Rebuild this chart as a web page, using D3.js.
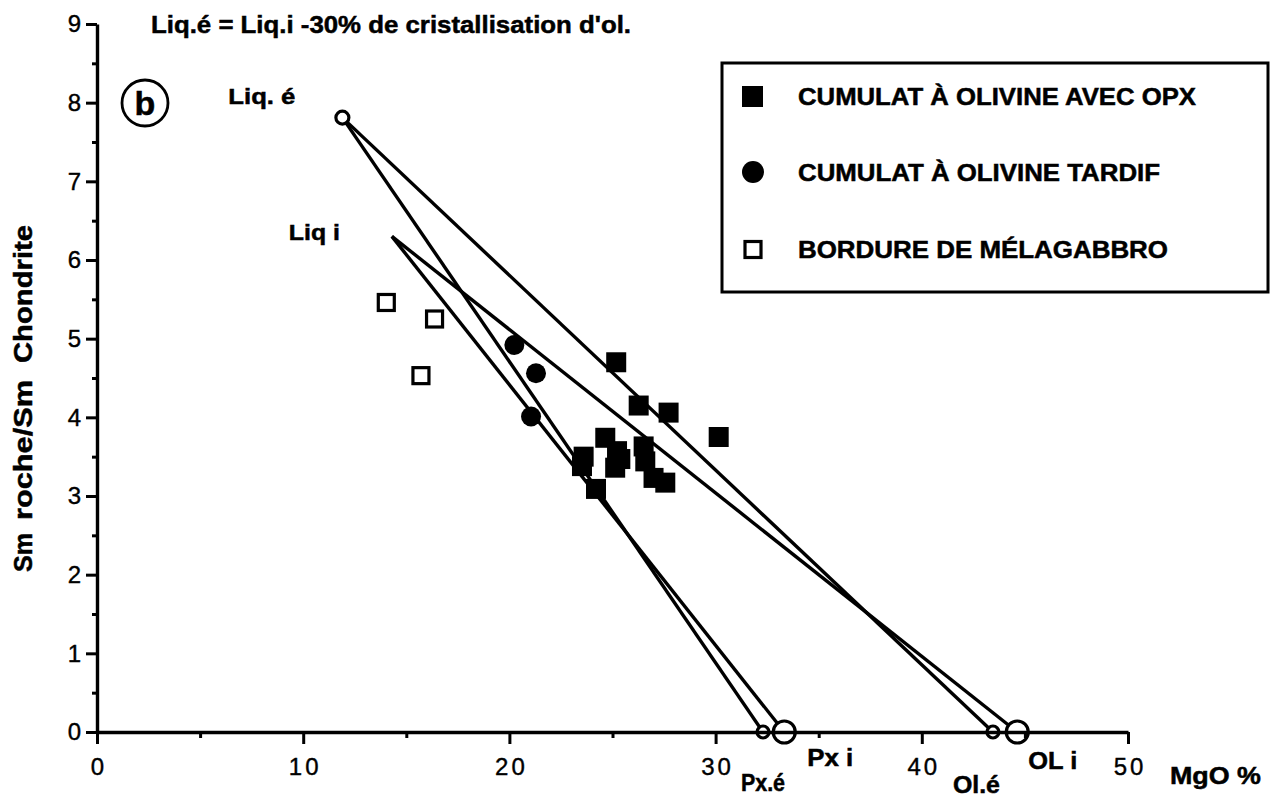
<!DOCTYPE html>
<html><head><meta charset="utf-8">
<script src="https://cdn.jsdelivr.net/npm/d3@7"></script>
<style>body{margin:0;background:#fff}svg{display:block}</style>
</head><body>
<svg id="c" width="1271" height="797"></svg>
<script>
// ---------- data ----------
const xTicks = [0, 10, 20, 30, 40, 50];
const xMinor = [5, 15, 25, 35, 45];
const yTicks = [0, 1, 2, 3, 4, 5, 6, 7, 8, 9];
const yMinor = [0.5, 1.5, 2.5, 3.5, 4.5, 5.5, 6.5, 7.5, 8.5];

// Cumulat à olivine avec OPX (filled squares)
const opxMgO = [25.18, 26.27, 27.72, 30.15, 24.65, 25.22, 25.38, 25.13, 23.60, 23.52, 24.20, 26.51, 26.59, 26.99, 27.56];
const opxSm  = [4.70, 4.15, 4.06, 3.75, 3.74, 3.57, 3.47, 3.36, 3.50, 3.38, 3.09, 3.63, 3.44, 3.23, 3.17];
// Cumulat à olivine tardif (filled circles)
const tardMgO = [20.24, 21.29, 21.05];
const tardSm  = [4.92, 4.56, 4.01];
// Bordure de mélagabbro (open squares)
const bordMgO = [14.03, 16.37, 15.71];
const bordSm  = [5.46, 5.25, 4.53];

// mixing lines: liquid -> pyroxene / olivine end-members (Sm = 0)
const liqNames = ["Liq. é", "Liq i"];
const liqMgO = [11.9, 14.3];
const liqSm  = [7.81, 6.30];
const pxNames = ["Px.é", "Px i"];
const pxMgO = [32.3, 33.33];
const olNames = ["Ol.é", "OL i"];
const olMgO = [43.45, 44.63];

const legendLabels = ["CUMULAT À OLIVINE AVEC OPX", "CUMULAT À OLIVINE TARDIF", "BORDURE DE MÉLAGABBRO"];

// ---------- drawing ----------
const svg = d3.select("#c");
const F = "'Liberation Sans', Arial, Helvetica, sans-serif";
const x = d3.scaleLinear().domain([0, 50]).range([97, 1128]);
const y = d3.scaleLinear().domain([0, 9]).range([732, 24]);

// mixing lines
const line = d3.line().x(d => x(d[0])).y(d => y(d[1]));
const segs = [];
liqMgO.forEach((m, i) => {
  segs.push([[m, liqSm[i]], [pxMgO[i], 0]]);
  segs.push([[m, liqSm[i]], [olMgO[i], 0]]);
});
svg.append("g").selectAll("path").data(segs).join("path")
  .attr("d", line).attr("fill", "none").attr("stroke", "#000")
  .attr("stroke-width", 3.4).attr("stroke-linejoin", "round");

// end-member circles
const endCircles = [
  {m: pxMgO[0], s: 0, r: 6}, {m: olMgO[0], s: 0, r: 6},
  {m: pxMgO[1], s: 0, r: 11}, {m: olMgO[1], s: 0, r: 11},
  {m: liqMgO[0], s: liqSm[0], r: 6.5}
];
svg.append("g").selectAll("circle").data(endCircles).join("circle")
  .attr("cx", d => x(d.m)).attr("cy", d => y(d.s)).attr("r", d => d.r)
  .attr("fill", "#fff").attr("stroke", "#000").attr("stroke-width", 3.2);

// axes
function styleAxis(g) {
  g.select(".domain").attr("stroke-width", 3.4);
  g.selectAll(".tick line").attr("stroke-width", 3);
  g.selectAll("text").attr("font-family", F).attr("font-size", 24).attr("fill", "#000")
    .attr("stroke", "#000").attr("stroke-width", 0.4);
}
const gxMinor = svg.append("g").attr("transform", "translate(0,732)")
  .call(d3.axisBottom(x).tickValues(xMinor).tickSize(6).tickSizeOuter(0).tickFormat(""));
gxMinor.select(".domain").remove();
gxMinor.selectAll(".tick line").attr("stroke-width", 3);
const gx = svg.append("g").attr("transform", "translate(0,732)")
  .call(d3.axisBottom(x).tickValues(xTicks).tickSize(12).tickSizeOuter(0).tickPadding(14).tickFormat(d3.format("d")));
styleAxis(gx);
gx.selectAll("text").attr("letter-spacing", 3).attr("dx", 1.5);

const gyMinor = svg.append("g").attr("transform", "translate(97,0)")
  .call(d3.axisLeft(y).tickValues(yMinor).tickSize(5).tickSizeOuter(0).tickFormat(""));
gyMinor.select(".domain").remove();
gyMinor.selectAll(".tick line").attr("stroke-width", 3);
const gy = svg.append("g").attr("transform", "translate(97,0)")
  .call(d3.axisLeft(y).tickValues(yTicks).tickSize(11).tickSizeOuter(0).tickPadding(5).tickFormat(d3.format("d")));
styleAxis(gy);

// data points
const opx = opxMgO.map((m, i) => [m, opxSm[i]]);
const tard = tardMgO.map((m, i) => [m, tardSm[i]]);
const bord = bordMgO.map((m, i) => [m, bordSm[i]]);
svg.append("g").selectAll("rect").data(opx).join("rect")
  .attr("x", d => x(d[0]) - 10).attr("y", d => y(d[1]) - 10)
  .attr("width", 20).attr("height", 20).attr("fill", "#000");
svg.append("g").selectAll("circle").data(tard).join("circle")
  .attr("cx", d => x(d[0])).attr("cy", d => y(d[1])).attr("r", 10).attr("fill", "#000");
svg.append("g").selectAll("rect").data(bord).join("rect")
  .attr("x", d => x(d[0]) - 8).attr("y", d => y(d[1]) - 8)
  .attr("width", 16).attr("height", 16).attr("fill", "#fff")
  .attr("stroke", "#000").attr("stroke-width", 3.2);

// annotations
const bold = (t, px, py, size, len) => {
  const e = svg.append("text").attr("x", px).attr("y", py).attr("font-family", F)
    .attr("font-weight", "bold").attr("font-size", size).attr("fill", "#000")
    .attr("stroke", "#000").attr("stroke-width", 0.5).text(t);
  if (len) e.attr("textLength", len).attr("lengthAdjust", "spacingAndGlyphs");
  return e;
};
bold("Liq.é = Liq.i -30% de cristallisation d'ol.", 151, 33, 24, 480);
bold(liqNames[0], x(liqMgO[0]) - 114, 104, 22, 67);
bold(liqNames[1], x(liqMgO[1]) - 103, 240, 22, 51);
bold(pxNames[0], x(pxMgO[0]) - 22, 791, 24, 44);
bold(pxNames[1], x(pxMgO[1]) + 23, 766, 24, 46);
bold(olNames[0], x(olMgO[0]) - 40, 793, 24, 47);
bold(olNames[1], x(olMgO[1]) + 11, 769, 24, 49);
bold("MgO %", 1170, 784, 24, 91);

// (b) marker
svg.append("circle").attr("cx", 145).attr("cy", 103).attr("r", 23)
  .attr("fill", "none").attr("stroke", "#000").attr("stroke-width", 2.8);
bold("b", 145, 115, 34).attr("text-anchor", "middle");

// y axis title
const yt = svg.append("g").attr("transform", "translate(32,0)");
[["Sm", 572, 39], ["roche/Sm", 520, 140], ["Chondrite", 363, 138]].forEach(([t, py, len]) => {
  yt.append("text").attr("transform", `translate(0,${py}) rotate(-90)`)
    .attr("font-family", F).attr("font-weight", "bold").attr("font-size", 26)
    .attr("stroke", "#000").attr("stroke-width", 0.5)
    .attr("textLength", len).attr("lengthAdjust", "spacingAndGlyphs").text(t);
});

// legend
const lg = svg.append("g");
lg.append("rect").attr("x", 722).attr("y", 63).attr("width", 546).attr("height", 229)
  .attr("fill", "#fff").attr("stroke", "#000").attr("stroke-width", 3);
const ly = [96, 172, 249];
lg.append("rect").attr("x", 742).attr("y", ly[0] - 10).attr("width", 21).attr("height", 21).attr("fill", "#000");
lg.append("circle").attr("cx", 753).attr("cy", ly[1]).attr("r", 11).attr("fill", "#000");
lg.append("rect").attr("x", 745).attr("y", ly[2] - 7.5).attr("width", 16).attr("height", 16)
  .attr("fill", "#fff").attr("stroke", "#000").attr("stroke-width", 3.2);
const lens = [398, 362, 370];
legendLabels.forEach((t, i) => {
  lg.append("text").attr("x", 798).attr("y", ly[i] + 9).attr("font-family", F)
    .attr("font-weight", "bold").attr("font-size", 24).attr("textLength", lens[i])
    .attr("stroke", "#000").attr("stroke-width", 0.5)
    .attr("lengthAdjust", "spacingAndGlyphs").text(t);
});
</script>
</body></html>
